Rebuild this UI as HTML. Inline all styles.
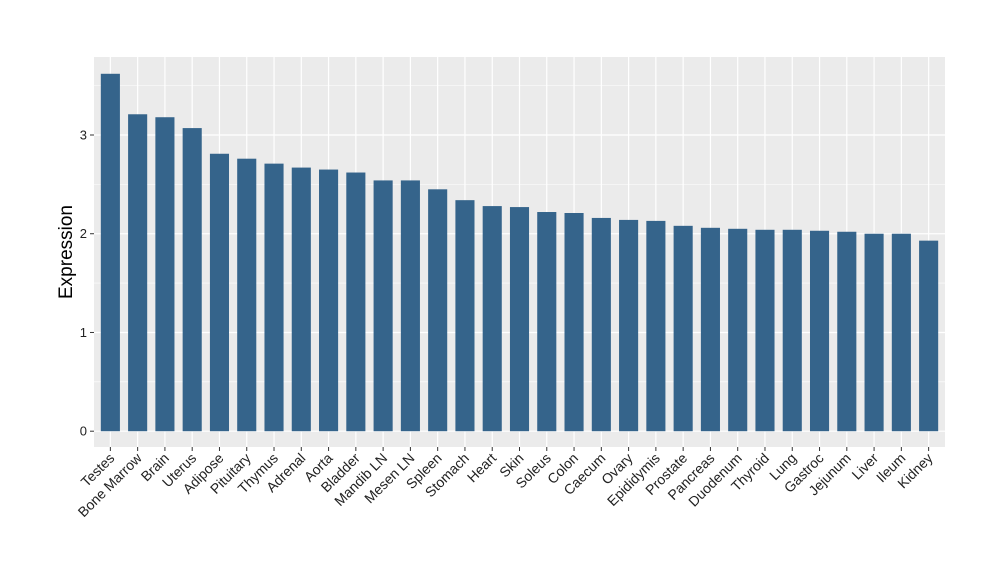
<!DOCTYPE html>
<html><head><meta charset="utf-8"><style>
body{margin:0;background:#fff;font-family:"Liberation Sans",Arial,sans-serif}
</style></head><body>
<svg id="chart" width="1000" height="580" xmlns="http://www.w3.org/2000/svg" font-family="Liberation Sans, Arial, sans-serif"></svg>
<script>
const categories=["Testes","Bone Marrow","Brain","Uterus","Adipose","Pituitary","Thymus","Adrenal","Aorta","Bladder","Mandib LN","Mesen LN","Spleen","Stomach","Heart","Skin","Soleus","Colon","Caecum","Ovary","Epididymis","Prostate","Pancreas","Duodenum","Thyroid","Lung","Gastroc","Jejunum","Liver","Ileum","Kidney"];
const values=[3.62,3.21,3.18,3.07,2.81,2.76,2.71,2.67,2.65,2.62,2.54,2.54,2.45,2.34,2.28,2.27,2.22,2.21,2.16,2.14,2.13,2.08,2.06,2.05,2.04,2.04,2.03,2.02,2.00,2.00,1.93];
const yTicks=[0,1,2,3];
const yMinor=[0.5,1.5,2.5,3.5];

const svg=document.getElementById('chart');
const NS='http://www.w3.org/2000/svg';
const P={l:94,r:945,t:57,b:447};
const yMin=-0.16,yMax=3.79;
const n=categories.length;
const step=(P.r-P.l)/(n+0.2);
const x=i=>P.l+step*(i+0.6);
const y=v=>P.b-(v-yMin)/(yMax-yMin)*(P.b-P.t);
function mk(t,a,p){const e=document.createElementNS(NS,t);for(const k in a)e.setAttribute(k,a[k]);(p||svg).appendChild(e);return e;}

const panel=mk('rect',{x:P.l,y:P.t,width:P.r-P.l,height:P.b-P.t,fill:'#ebebeb'});


const grid=mk('g',{});


yMinor.forEach(v=>mk('line',{x1:P.l,x2:P.r,y1:y(v),y2:y(v),stroke:'#fff','stroke-width':0.6},grid));
yTicks.forEach(v=>mk('line',{x1:P.l,x2:P.r,y1:y(v),y2:y(v),stroke:'#fff','stroke-width':1.2},grid));
categories.forEach((c,i)=>mk('line',{x1:x(i),x2:x(i),y1:P.t,y2:P.b,stroke:'#fff','stroke-width':1.2},grid));

const bw=step*0.7;
values.forEach((v,i)=>{
  const r=mk('rect',{x:x(i)-bw/2,y:y(v),width:bw,height:y(0)-y(v),fill:'#35648b'});
  
  
});

yTicks.forEach(v=>{
  mk('line',{x1:P.l-4,x2:P.l,y1:y(v),y2:y(v),stroke:'#333','stroke-width':1});
  const t=mk('text',{x:P.l-7,y:y(v)+4.5,'text-anchor':'end','font-size':13,fill:'#222'});
  t.textContent=v;
  
  
});
categories.forEach((c,i)=>{
  mk('line',{x1:x(i),x2:x(i),y1:P.b,y2:P.b+4,stroke:'#333','stroke-width':1});
  const t=mk('text',{x:x(i)+5,y:P.b+12,'text-anchor':'end','font-size':14,fill:'#222',transform:`rotate(-45 ${x(i)+5} ${P.b+12})`});
  t.textContent=c;
  
  
});
const yt=mk('text',{x:72,y:(P.t+P.b)/2,'text-anchor':'middle','font-size':19,fill:'#000',transform:`rotate(-90 72 ${(P.t+P.b)/2})`});
yt.textContent='Expression';


</script>
</body></html>
